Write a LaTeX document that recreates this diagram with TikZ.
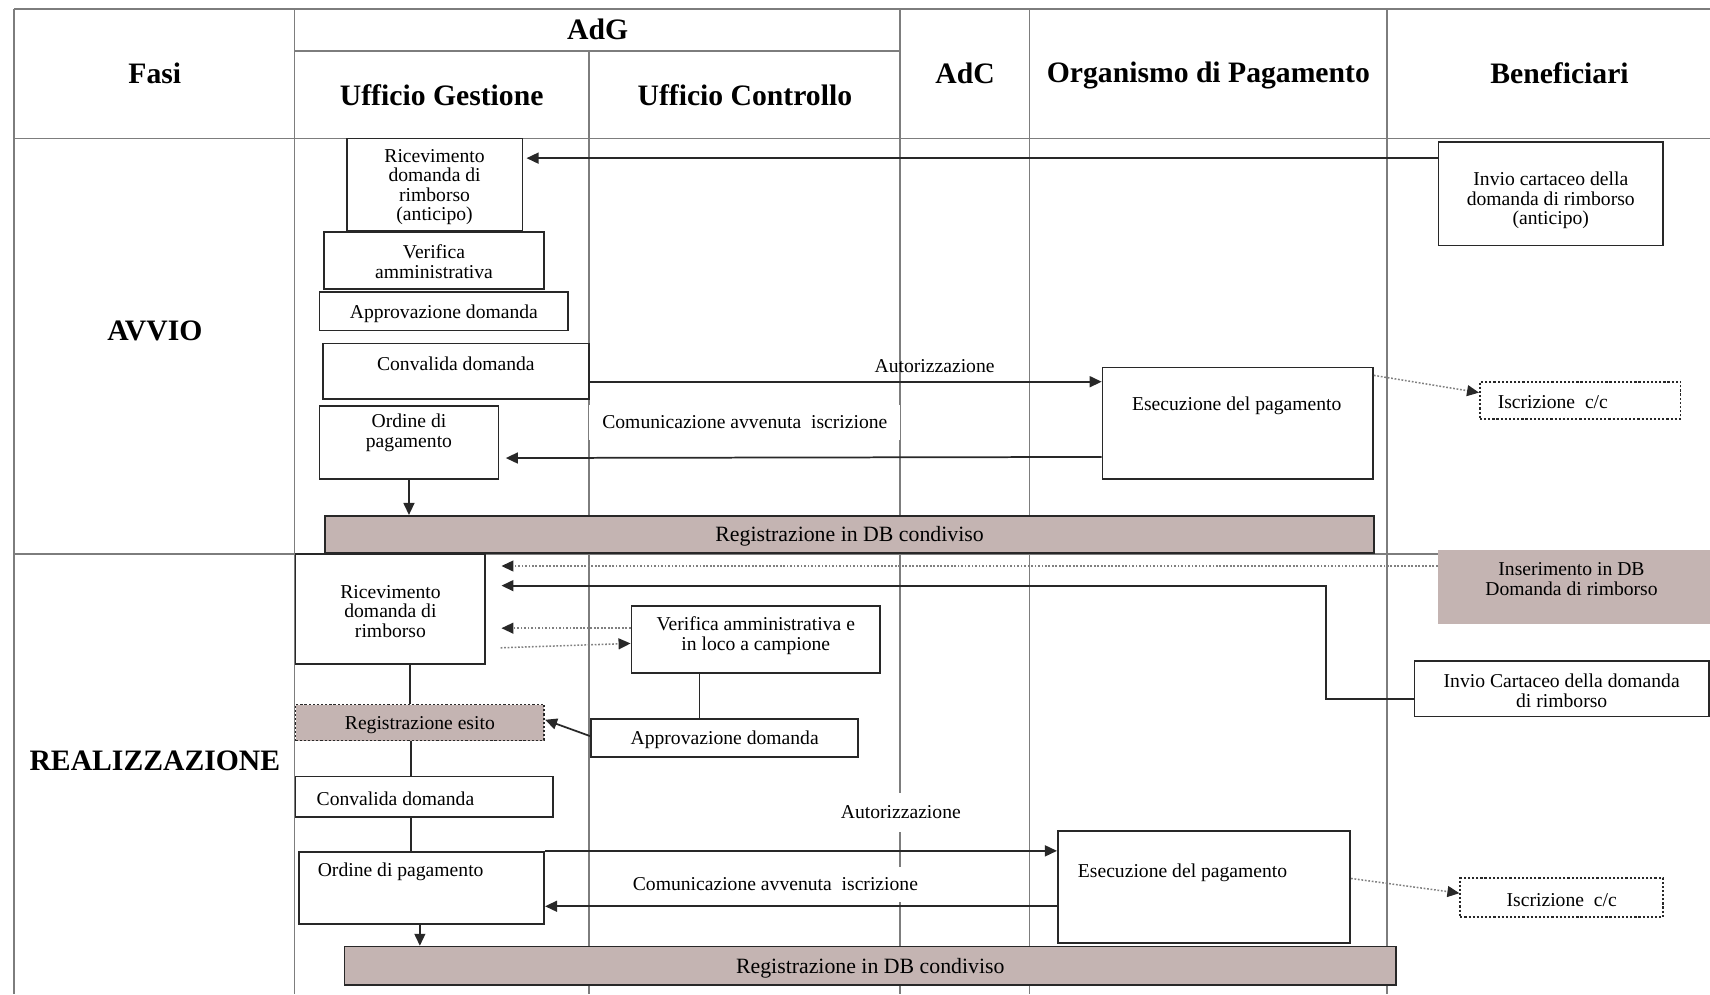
\documentclass[tikz,border=0pt]{standalone}
\usepackage{fontspec}
\setmainfont{Liberation Serif}
\usetikzlibrary{arrows.meta,fit}

\definecolor{dbfill}{RGB}{196,180,178}
\definecolor{gridgray}{RGB}{125,125,125}
\definecolor{ink}{RGB}{40,40,40}

\newcommand{\bodyfont}{\fontsize{9}{8.9}\selectfont}
\newcommand{\dbfont}{\fontsize{10}{11}\selectfont}
\newcommand{\hdrfont}{\fontsize{13.6}{15}\selectfont\bfseries}

\begin{document}
\begin{tikzpicture}[x=0.5pt,y=-0.5pt,
  tableline/.style={draw=gridgray, line width=0.8pt},
  pbox/.style={draw=ink, fill=white, line width=0.8pt, inner sep=0pt},
  dbbar/.style={pbox, fill=dbfill},
  dotbox/.style={pbox, dash pattern=on 1pt off 0.9pt},
  plain/.style={inner sep=0pt, align=center, font=\bodyfont, yshift=-1pt},
  dbtext/.style={inner sep=0pt, align=center, font=\dbfont, yshift=-1pt},
  hdr/.style={inner sep=0pt, font=\hdrfont},
  lbl/.style={font=\bodyfont, inner xsep=6pt, inner ysep=5pt},
  lblw/.style={lbl, fill=white},
  arr/.style={draw=ink, line width=0.8pt, -{Triangle[length=5.5pt,width=5pt]}},
  dotarr/.style={draw=gray, line width=0.7pt, dash pattern=on 0.8pt off 0.8pt,
                 -{Triangle[length=5.5pt,width=5pt,color=ink]}},
  link/.style={draw=ink, line width=0.8pt}]

\useasboundingbox (0,0) rectangle (1568,911.5);

% ---- table rules ----
\draw[tableline] (13,8) -- (1568,8);
\draw[tableline] (270,47) -- (825,47);
\draw[tableline] (13,127) -- (1568,127);
\draw[tableline] (13,508) -- (1568,508);
\draw[tableline] (13,8) -- (13,911.5);
\draw[tableline] (270,8) -- (270,911.5);
\draw[tableline] (540,47) -- (540,911.5);
\draw[tableline] (825,8) -- (825,911.5);
\draw[tableline] (944,8) -- (944,911.5);
\draw[tableline] (1272,8) -- (1272,911.5);

% ---- headers ----
\node[hdr] (hfasi) at (142,67) {Fasi};
\node[hdr] (hadg) at (548,27) {AdG};
\node[hdr] (hug) at (405,87) {Ufficio Gestione};
\node[hdr] (huc) at (683,87) {Ufficio Controllo};
\node[hdr] (hadc) at (885,67) {AdC};
\node[hdr] (hop) at (1108,69) {Organismo di Pagamento};
\node[hdr] (hben) at (1430,67) {Beneficiari};
\node[hdr] (pavvio) at (142,303) {AVVIO};
\node[hdr] (preal) at (142,698) {REALIZZAZIONE};

% ---- connector labels ----
\node[lbl] (aut1) at (857,336) {Autorizzazione};
\node[lblw] (com1) at (683,387) {Comunicazione avvenuta\ \ iscrizione};
\node[lblw, inner ysep=6pt] (aut2) at (826,745) {Autorizzazione};
\node[lblw] (com2) at (711,811) {Comunicazione avvenuta\ \ iscrizione};

% ---- AVVIO ----
\node[pbox, fit={(318,127) (479,212)}] (ric1) {};
\node[plain] (ric1t) at (ric1.center) {Ricevimento\\domanda di\\rimborso\\(anticipo)};
\node[pbox, fit={(297,213) (499,265)}] (ver1) {};
\node[plain] (ver1t) at (398,238) {Verifica\\amministrativa};
\node[pbox, fit={(293,268) (521,303)}] (app1) {};
\node[plain] (app1t) at (app1.center) {Approvazione domanda};
\node[pbox, fit={(296,315) (540,366)}] (conv1) {};
\node[plain] (conv1t) at (418,332) {Convalida domanda};
\node[pbox, fit={(293,372) (457,439)}] (ord1) {};
\node[plain] (ord1t) at (375,395) {Ordine di\\pagamento};
\node[dbbar, fit={(298,473) (1260,507)}] (db1) {};
\node[dbtext] (db1t) at (db1.center) {Registrazione in DB condiviso};
\node[pbox, fit={(1011,337) (1259,439)}] (exe1) {};
\node[plain] (exe1t) at (1134,370) {Esecuzione del pagamento};
\node[pbox, fit={(1319,130) (1525,225)}] (inv1) {};
\node[plain] (inv1t) at (1422,182) {Invio cartaceo della\\domanda di rimborso\\(anticipo)};
\node[dotbox, fit={(1357,350) (1541,384)}] (isc1) {};
\node[plain, anchor=west] (isc1t) at (1373,367) {Iscrizione\ \ c/c};

% ---- REALIZZAZIONE ----
\node[pbox, fit={(271,508) (445,609)}] (ric2) {};
\node[plain] (ric2t) at (ric2.center) {Ricevimento\\domanda di\\rimborso};
\node[pbox, draw=none, fill=dbfill, fit={(1319,504) (1568,572)}] (ins2) {};
\node[plain] (ins2t) at (1441,529) {Inserimento in DB\\Domanda di rimborso};
\node[pbox, fit={(1297,606) (1567,657)}] (inv2) {};
\node[plain] (inv2t) at (inv2.center) {Invio Cartaceo della domanda\\di rimborso};
\node[pbox, fit={(579,556) (807,617)}] (ver2) {};
\node[plain] (ver2t) at (693,581) {Verifica amministrativa e\\in loco a campione};
\node[dotbox, fill=dbfill, fit={(271,646) (499,679)}] (reg2) {};
\node[plain] (reg2t) at (reg2.center) {Registrazione esito};
\node[pbox, fit={(542,659) (787,694)}] (app2) {};
\node[plain] (app2t) at (app2.center) {Approvazione domanda};
\node[pbox, fit={(271,712) (507,749)}] (conv2) {};
\node[plain, anchor=west] (conv2t) at (290,730) {Convalida domanda};
\node[pbox, fit={(274,781) (499,847)}] (ord2) {};
\node[plain, anchor=west] (ord2t) at (291,797) {Ordine di pagamento};
\node[dbbar, fit={(316,868) (1280,903)}] (db2) {};
\node[dbtext] (db2t) at (db2.center) {Registrazione in DB condiviso};
\node[pbox, fit={(970,762) (1238,865)}] (exe2) {};
\node[plain, anchor=west] (exe2t) at (988,798) {Esecuzione del pagamento};
\node[dotbox, fit={(1339,805) (1525,841)}] (isc2) {};
\node[plain] (isc2t) at (isc2.center) {Iscrizione\ \ c/c};

% ---- AVVIO connectors ----
\draw[arr, shorten >=1.5pt] (inv1.west |- 0,145) -- (ric1.east |- 0,145);
\draw[arr] (conv1.east |- 0,350) -- (exe1.west |- 0,350);
\draw[arr, shorten >=3pt] (exe1.west |- 0,419) -- (ord1.east |- 0,420);
\draw[arr] (ord1.south) -- (ord1.south |- db1.north);
\draw[dotarr] ([yshift=-4pt]exe1.north east) -- ([yshift=3.5pt]isc1.west);

% ---- REALIZZAZIONE connectors ----
\coordinate (turn) at (1216,537);
\coordinate (r2out) at (459,594);
\draw[dotarr, shorten >=7pt] (ins2.west |- 0,519) -- (ric2.east |- 0,519);
\draw[arr, shorten >=7pt] (inv2.west |- 0,641) -| (turn) -- (ric2.east |- turn);
\draw[dotarr, shorten >=7pt] (ver2.west |- 0,576) -- (ric2.east |- 0,576);
\draw[dotarr] (r2out) -- (ver2.west |- 0,590);
\draw[link] (ric2.south -| 376,0) -- (reg2.north -| 376,0);
\draw[link] (ver2.south -| 641.5,0) -- (app2.north -| 641.5,0);
\draw[arr] (app2.west |- 0,675) -- (reg2.east |- 0,660);
\draw[link] (reg2.south -| 377,0) -- (conv2.north -| 377,0);
\draw[link] (conv2.south -| 377,0) -- (ord2.north -| 377,0);
\draw[arr] (ord2.south -| 385,0) -- (db2.north -| 385,0);
\draw[arr] (ord2.north east) -- (exe2.west |- ord2.north east);
\draw[arr] (exe2.west |- 0,831) -- (ord2.east |- 0,831);
\draw[dotarr] ([yshift=4pt]exe2.east) -- ([yshift=2pt]isc2.west);

\end{tikzpicture}
\end{document}
